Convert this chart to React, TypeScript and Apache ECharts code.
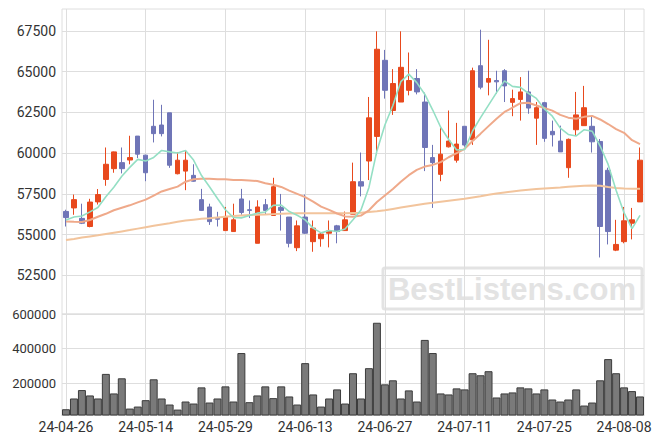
import React, { useEffect, useRef } from "react";
import * as echarts from "echarts";

const dates = [
  "24-04-26", "24-04-29", "24-04-30", "24-05-02", "24-05-03", "24-05-07", "24-05-08", "24-05-09", "24-05-10", "24-05-13",
  "24-05-14", "24-05-16", "24-05-17", "24-05-20", "24-05-21", "24-05-22", "24-05-23", "24-05-24", "24-05-27", "24-05-28",
  "24-05-29", "24-05-30", "24-05-31", "24-06-03", "24-06-04", "24-06-05", "24-06-07", "24-06-10", "24-06-11", "24-06-12",
  "24-06-13", "24-06-14", "24-06-17", "24-06-18", "24-06-19", "24-06-20", "24-06-21", "24-06-24", "24-06-25", "24-06-26",
  "24-06-27", "24-06-28", "24-07-01", "24-07-02", "24-07-03", "24-07-04", "24-07-05", "24-07-08", "24-07-09", "24-07-10",
  "24-07-11", "24-07-12", "24-07-15", "24-07-16", "24-07-17", "24-07-18", "24-07-19", "24-07-22", "24-07-23", "24-07-24",
  "24-07-25", "24-07-26", "24-07-29", "24-07-30", "24-07-31", "24-08-01", "24-08-02", "24-08-05", "24-08-06", "24-08-07",
  "24-08-08", "24-08-09", "24-08-12",
];

const opens = [
  56425, 56640, 56000, 55500, 57010, 58390, 59050, 59420, 59580, 61050,
  59880, 61650, 61730, 62480, 58740, 58900, 58640, 57150, 56700, 56000,
  55250, 55190, 57190, 56530, 54470, 56840, 56180, 56680, 56080, 54200,
  56080, 54570, 54750, 55090, 55540, 55250, 56260, 58250, 59520, 61030,
  65700, 62620, 63140, 63860, 64585, 63140, 59730, 58700, 60390, 59570,
  61650, 60820, 65370, 64360, 64460, 65060, 63120, 63300, 63760, 62150,
  63100, 61340, 60745, 59110, 61440, 61690, 61650, 60720, 58950, 54050,
  54570, 55700, 57010,
];
const closes = [
  56050, 57150, 55700, 57000, 57460, 59320, 60080, 59050, 59730, 59940,
  58800, 61200, 61200, 59260, 59570, 59570, 58280, 56490, 55800, 55950,
  56120, 55910, 56360, 56490, 56700, 56490, 57940, 56490, 54470, 55540,
  55090, 55400, 55040, 55230, 55190, 55910, 58250, 57980, 62170, 66380,
  63860, 64275, 65270, 64460, 63760, 60350, 59420, 59940, 60745, 60560,
  60500, 65060, 64050, 64585, 64380, 64130, 63350, 63760, 62770, 62790,
  60910, 61130, 60080, 60850, 62350, 62790, 60700, 55500, 55190, 54400,
  55850, 55910, 59570,
];
const lows = [
  55500, 56220, 55650, 55450, 56850, 58000, 58800, 58760, 59320, 59700,
  58280, 60660, 61030, 59100, 58700, 57730, 58250, 56450, 55600, 55500,
  55250, 55190, 56220, 56020, 54470, 56220, 56180, 55250, 54220, 53990,
  55050, 53950, 54260, 54220, 54470, 55250, 56260, 57350, 58350, 59880,
  63350, 62350, 63140, 63550, 63610, 58900, 56640, 58280, 60350, 59420,
  60400, 60510, 63920, 63550, 63650, 63140, 62270, 62000, 62420, 60510,
  60700, 60410, 60080, 58490, 61070, 61690, 60040, 53600, 54400, 53990,
  54470, 54710, 57010,
];
const highs = [
  56530, 57460, 56900, 57200, 57800, 60350, 60100, 60350, 61070, 61050,
  59900, 63280, 62970, 62480, 60060, 60140, 59320, 57810, 56900, 56400,
  56700, 56900, 57810, 57100, 57110, 57190, 58490, 57500, 56080, 55870,
  57460, 55870, 55100, 55870, 55600, 56420, 59420, 60040, 63450, 67480,
  66340, 65160, 67480, 66180, 65160, 63720, 60510, 61650, 62620, 61860,
  61650, 65250, 67580, 66960, 65060, 65160, 63900, 64670, 65060, 63140,
  63150, 62000, 61690, 60900, 63760, 64130, 62270, 60870, 59110, 55910,
  56700, 56640, 60350,
];

const volumes = [
  50500, 112600, 161200, 130100, 112600, 254400, 141700, 229100, 54400, 66000,
  102900, 223300, 112600, 77700, 48500, 95100, 83500, 176700, 89300, 112600,
  182500, 95100, 374800, 91300, 130100, 182500, 114600, 182500, 124300, 77700,
  316500, 135900, 66000, 112600, 165000, 83500, 258300, 112600, 287400, 549500,
  194200, 217500, 112600, 159200, 95100, 450500, 374800, 141700, 135900, 170900,
  165000, 258300, 246600, 269900, 118400, 141700, 147600, 176700, 170900, 141700,
  165000, 106800, 95100, 106800, 165000, 71900, 89300, 217500, 339800, 258300,
  176700, 155300, 124300,
];

const ma5 = [
  55900, 56080, 56150, 56400, 56670, 57330, 57910, 58580, 59130, 59620,
  59520, 59740, 60170, 60080, 60010, 60160, 59580, 58630, 57940, 57220,
  56530, 56050, 56030, 56170, 56320, 56390, 56800, 56820, 56420, 56190,
  55910, 55400, 55110, 55260, 55190, 55350, 55920, 56510, 57900, 60140,
  61730, 62930, 64390, 64850, 64330, 63620, 62650, 61590, 60840, 60200,
  60230, 61360, 62180, 62950, 63720, 64440, 64100, 64040, 63680, 63360,
  62720, 62270, 61540, 61150, 61060, 61440, 61350, 60440, 59310, 57720,
  56330, 55370, 56180,
];
const ma20 = [
  55810, 55790, 55780, 55900, 56100, 56280, 56500, 56650, 56800, 56980,
  57150, 57400, 57650, 57800, 57950, 58250, 58400, 58430, 58430, 58400,
  58400, 58350, 58350, 58330, 58290, 58160, 58060, 57930, 57700, 57500,
  57300, 57030, 56720, 56520, 56300, 56120, 56100, 56170, 56500, 57000,
  57400, 57800, 58250, 58650, 58980, 59180, 59280, 59450, 59750, 60000,
  60270, 60750, 61200, 61660, 62120, 62530, 62790, 63070, 63100, 62930,
  62770, 62610, 62350, 62180, 62110, 62230, 62290, 62070, 61790, 61480,
  61250, 60800, 60560,
];
const ma60 = [
  54670, 54740, 54820, 54890, 54960, 55040, 55120, 55200, 55280, 55370,
  55460, 55540, 55620, 55700, 55790, 55870, 55920, 55970, 56010, 56060,
  56100, 56140, 56170, 56200, 56220, 56240, 56260, 56280, 56300, 56310,
  56320, 56320, 56320, 56320, 56320, 56320, 56330, 56340, 56390, 56440,
  56500, 56580, 56660, 56740, 56820, 56900, 56960, 57020, 57080, 57140,
  57200, 57280, 57360, 57450, 57530, 57590, 57650, 57710, 57760, 57800,
  57840, 57870, 57900, 57940, 57970, 58000, 58020, 58000, 57930, 57870,
  57830, 57810, 57810,
];

const priceTicks = [52500, 55000, 57500, 60000, 62500, 65000, 67500];
const volumeTicks = [200000, 400000, 600000];

const UP = "#e8491d";
const DOWN = "#6f75b7";
const GRID_LINE = "#dedede";

export default function App() {
  const ref = useRef<HTMLDivElement>(null);

  useEffect(() => {
    if (!ref.current) return;
    const chart = echarts.init(ref.current, null, { renderer: "svg" });
    const candleData = dates.map((_, i) => [opens[i], closes[i], lows[i], highs[i]]);
    const plain = (v: number) => String(v);
    const splitX = {
      show: true,
      interval: 9,
      alignWithLabel: true,
      lineStyle: { color: GRID_LINE, width: 1 },
    };
    chart.setOption({
      animation: false,
      backgroundColor: "#ffffff",
      textStyle: { fontFamily: "Roboto" },
      grid: [
        { left: 62, right: 19, top: 9, height: 305, show: true, borderColor: GRID_LINE, borderWidth: 1 },
        { left: 62, right: 19, top: 314, height: 101, show: true, borderColor: GRID_LINE, borderWidth: 1 },
      ],
      xAxis: [
        {
          type: "category",
          gridIndex: 0,
          data: dates,
          boundaryGap: true,
          axisLine: { show: false },
          axisTick: { show: false },
          axisLabel: { show: false },
          splitLine: splitX,
        },
        {
          type: "category",
          gridIndex: 1,
          data: dates,
          boundaryGap: true,
          axisLine: { show: true, lineStyle: { color: "#cccccc" } },
          axisTick: { show: false },
          axisLabel: { interval: 9, fontSize: 14, color: "#333", margin: 5, fontFamily: "Roboto" },
          splitLine: splitX,
        },
      ],
      yAxis: [
        {
          type: "value",
          gridIndex: 0,
          min: 50130,
          max: 68850,
          axisLine: { show: false },
          axisTick: { show: false, customValues: priceTicks },
          axisLabel: {
            customValues: priceTicks,
            formatter: plain,
            fontSize: 14,
            color: "#333",
            margin: 6,
            fontFamily: "Roboto",
          },
          splitLine: { show: true, customValues: priceTicks, lineStyle: { color: GRID_LINE } },
        },
        {
          type: "value",
          gridIndex: 1,
          min: 17300,
          max: 600000,
          axisLine: { show: false },
          axisTick: { show: false, customValues: volumeTicks },
          axisLabel: {
            customValues: volumeTicks,
            formatter: plain,
            fontSize: 13,
            color: "#333",
            margin: 6,
            fontFamily: "Roboto",
          },
          splitLine: { show: true, customValues: volumeTicks, lineStyle: { color: GRID_LINE } },
        },
      ],
      graphic: [
        {
          type: "rect",
          z: 0,
          silent: true,
          shape: { x: 383, y: 268, width: 259, height: 41, r: 2 },
          style: { fill: "rgba(255,255,255,0)", stroke: "#e3e3e3", lineWidth: 3 },
        },
        {
          type: "text",
          z: 0,
          silent: true,
          x: 512,
          y: 289,
          style: {
            text: "BestListens.com",
            fill: "#e3e3e3",
            font: 'bold 31px "Liberation Sans"',
            align: "center",
            verticalAlign: "middle",
          },
        },
      ],
      series: [
        {
          type: "candlestick",
          xAxisIndex: 0,
          yAxisIndex: 0,
          data: candleData,
          barWidth: 5,
          itemStyle: {
            color: UP,
            color0: DOWN,
            borderColor: UP,
            borderColor0: DOWN,
            borderWidth: 1,
          },
        },
        {
          type: "line",
          xAxisIndex: 0,
          yAxisIndex: 0,
          data: ma60,
          symbol: "none",
          lineStyle: { color: "#f2c49c", width: 2 },
          z: 3,
        },
        {
          type: "line",
          xAxisIndex: 0,
          yAxisIndex: 0,
          data: ma20,
          symbol: "none",
          lineStyle: { color: "#efa98a", width: 2 },
          z: 3,
        },
        {
          type: "line",
          xAxisIndex: 0,
          yAxisIndex: 0,
          data: ma5,
          symbol: "none",
          lineStyle: { color: "#94dfc4", width: 1.6 },
          z: 3,
        },
        {
          type: "bar",
          xAxisIndex: 1,
          yAxisIndex: 1,
          data: volumes,
          barCategoryGap: "0%",
          itemStyle: { color: "#7a7a7a", borderColor: "#3c3c3c", borderWidth: 1 },
        },
      ],
    });
    return () => chart.dispose();
  }, []);

  return (
    <div
      ref={ref}
      style={{ position: "absolute", left: 0, top: 0, width: 663, height: 444, background: "#fff" }}
    />
  );
}
